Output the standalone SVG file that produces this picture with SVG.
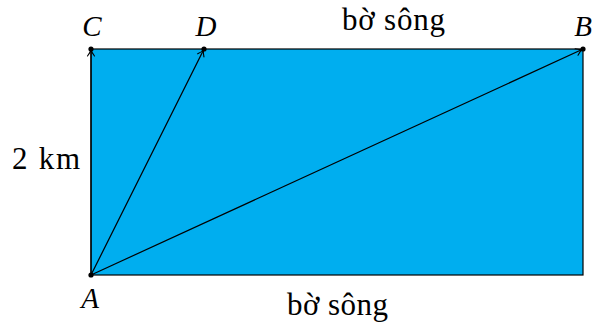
<svg xmlns="http://www.w3.org/2000/svg" width="595" height="328" viewBox="0 0 595 328">
<style>
.lbl{font-family:"Liberation Serif","DejaVu Serif",serif;font-size:31px;fill:#000}
.it{font-style:italic;font-size:29px}
.edge{stroke:#000;stroke-width:1.2;fill:none}
</style>
<defs>
<marker id="ah" viewBox="-8 -5 10 10" refX="0" refY="0" markerWidth="10" markerHeight="10" markerUnits="userSpaceOnUse" orient="auto">
<path d="M-6,-3.5 Q-2,-0.5 0,0 Q-2,0.5 -6,3.5" fill="none" stroke="#000" stroke-width="1.1" stroke-linecap="round"/>
</marker>
</defs>
<g id="river">
<rect x="91" y="49" width="492" height="226" fill="#00AEEF" stroke="#000" stroke-width="1.2"/>
</g>
<g id="connectors">
<line class="edge" x1="91" y1="275" x2="91" y2="50" marker-end="url(#ah)"/>
<line class="edge" x1="91" y1="275" x2="203.5" y2="50" marker-end="url(#ah)"/>
<line class="edge" x1="91" y1="275" x2="582" y2="49.5" marker-end="url(#ah)"/>
</g>
<g id="A"><circle cx="91" cy="275" r="2.6" fill="#000"/><text class="lbl it" x="90" y="308" text-anchor="middle">A</text></g>
<g id="C"><circle cx="91" cy="49" r="2.6" fill="#000"/><text class="lbl it" x="92" y="36" text-anchor="middle">C</text></g>
<g id="D"><circle cx="204" cy="49" r="2.6" fill="#000"/><text class="lbl it" x="206" y="36" text-anchor="middle">D</text></g>
<g id="B"><circle cx="583" cy="49" r="2.6" fill="#000"/><text class="lbl it" x="583" y="36" text-anchor="middle">B</text></g>
<g id="labels">
<text class="lbl" x="342" y="30" textLength="103" lengthAdjust="spacing">bờ sông</text>
<text class="lbl" x="287" y="315" textLength="101" lengthAdjust="spacing">bờ sông</text>
<text class="lbl" x="12" y="169" textLength="68" lengthAdjust="spacing">2 km</text>
</g>
</svg>
